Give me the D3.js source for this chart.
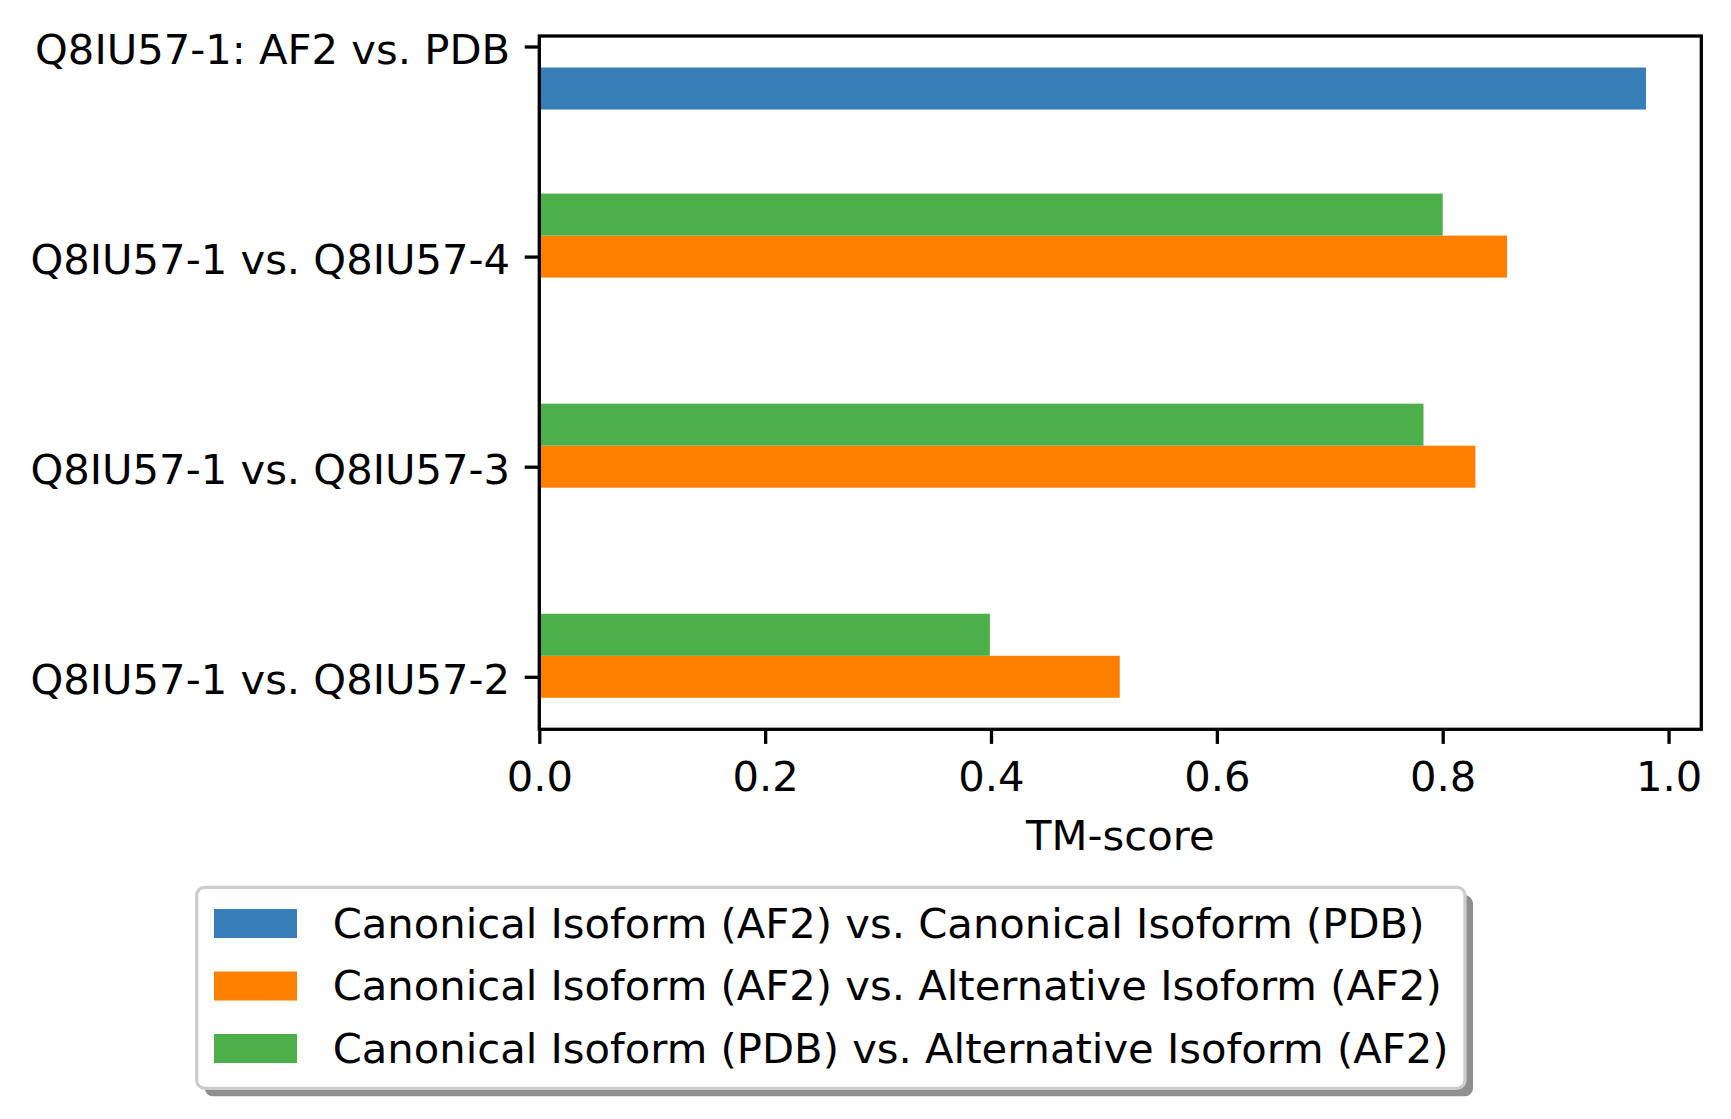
<!DOCTYPE html>
<html>
<head>
<meta charset="utf-8">
<script src="https://cdn.jsdelivr.net/npm/d3@7"></script>
<style>
  html, body { margin: 0; padding: 0; background: #ffffff; }
  svg { display: block; font-family: "DejaVu Sans", sans-serif; }
</style>
</head>
<body>
<svg id="chart" width="1731" height="1119"></svg>
<script>
// ---- data ----
const categories = [
  "Q8IU57-1: AF2 vs. PDB",
  "Q8IU57-1 vs. Q8IU57-4",
  "Q8IU57-1 vs. Q8IU57-3",
  "Q8IU57-1 vs. Q8IU57-2"
];
const seriesNames = [
  "Canonical Isoform (AF2) vs. Canonical Isoform (PDB)",
  "Canonical Isoform (AF2) vs. Alternative Isoform (AF2)",
  "Canonical Isoform (PDB) vs. Alternative Isoform (AF2)"
];
const af2VsPdb = [0.980, null, null, null];
const af2VsAlt = [null, 0.857, 0.829, 0.514];
const pdbVsAlt = [null, 0.800, 0.783, 0.399];
const xTickValues = [0.0, 0.2, 0.4, 0.6, 0.8, 1.0];
const xLabel = "TM-score";

// ---- styles ----
const seriesColors = ["#377eb8", "#ff7f00", "#4daf4a"];
const seriesOffsets = [0.2, 0.0, -0.2]; // in category units (down is positive)
const barH = 0.2;
const fontSize = 41.7;
const lw = 3.3;

const series = [af2VsPdb, af2VsAlt, pdbVsAlt];

const svg = d3.select("#chart");
const plot = { left: 539.3, right: 1701.3, top: 36, bottom: 729.3 };

const x = d3.scaleLinear().domain([0, 1.029]).range([plot.left, plot.right]);
const y = d3.scaleLinear().domain([-0.05, 3.25]).range([plot.top, plot.bottom]);

// bars
const barData = [];
series.forEach((vals, s) => {
  vals.forEach((v, i) => {
    if (v !== null) barData.push({ s, i, v });
  });
});
svg.append("g").selectAll("rect").data(barData).join("rect")
  .attr("x", x(0))
  .attr("y", d => y(d.i + seriesOffsets[d.s] - barH / 2))
  .attr("width", d => x(d.v) - x(0))
  .attr("height", d => y(d.i + seriesOffsets[d.s] + barH / 2) - y(d.i + seriesOffsets[d.s] - barH / 2))
  .attr("fill", d => seriesColors[d.s]);

// axes
const yAxis = d3.axisLeft(y)
  .tickValues(categories.map((c, i) => i))
  .tickFormat(i => categories[i])
  .tickSize(14.6).tickSizeOuter(0).tickPadding(14.6);
const gy = svg.append("g").attr("transform", `translate(${plot.left},0)`).call(yAxis);
gy.select(".domain").remove();
gy.selectAll(".tick line").attr("stroke", "#000").attr("stroke-width", lw);
gy.selectAll(".tick text").attr("font-size", fontSize).attr("font-family", "DejaVu Sans")
  .attr("fill", "#000").attr("dy", "0.4em");

const xAxis = d3.axisBottom(x)
  .tickValues(xTickValues)
  .tickFormat(d3.format(".1f"))
  .tickSize(14.6).tickSizeOuter(0).tickPadding(17);
const gx = svg.append("g").attr("transform", `translate(0,${plot.bottom})`).call(xAxis);
gx.select(".domain").remove();
gx.selectAll(".tick line").attr("stroke", "#000").attr("stroke-width", lw);
gx.selectAll(".tick text").attr("font-size", fontSize).attr("font-family", "DejaVu Sans").attr("fill", "#000");

// frame
svg.append("rect")
  .attr("x", plot.left).attr("y", plot.top)
  .attr("width", plot.right - plot.left).attr("height", plot.bottom - plot.top)
  .attr("fill", "none").attr("stroke", "#000").attr("stroke-width", lw);

// x label
svg.append("text")
  .attr("x", (plot.left + plot.right) / 2).attr("y", 850)
  .attr("text-anchor", "middle")
  .attr("font-size", fontSize).attr("fill", "#000")
  .text(xLabel);

// legend
const lg = { x: 196.7, y: 887.3, w: 1465 - 196.7, h: 1088.3 - 887.3 };
svg.append("rect")
  .attr("x", lg.x + 8).attr("y", lg.y + 8).attr("width", lg.w).attr("height", lg.h)
  .attr("rx", 8).attr("fill", "#8f8f8f");
svg.append("rect")
  .attr("x", lg.x).attr("y", lg.y).attr("width", lg.w).attr("height", lg.h)
  .attr("rx", 8).attr("fill", "#ffffff").attr("stroke", "#cccccc").attr("stroke-width", lw);

const rowTop = [909, 971.5, 1034];
const items = svg.append("g").selectAll("g").data(seriesNames).join("g")
  .attr("transform", (d, i) => `translate(0,${rowTop[i]})`);
items.append("rect")
  .attr("x", 214).attr("y", 0).attr("width", 83).attr("height", 29)
  .attr("fill", (d, i) => seriesColors[i]);
items.append("text")
  .attr("x", 332.7).attr("y", 28.5)
  .attr("font-size", fontSize).attr("fill", "#000")
  .text(d => d);
</script>
</body>
</html>
